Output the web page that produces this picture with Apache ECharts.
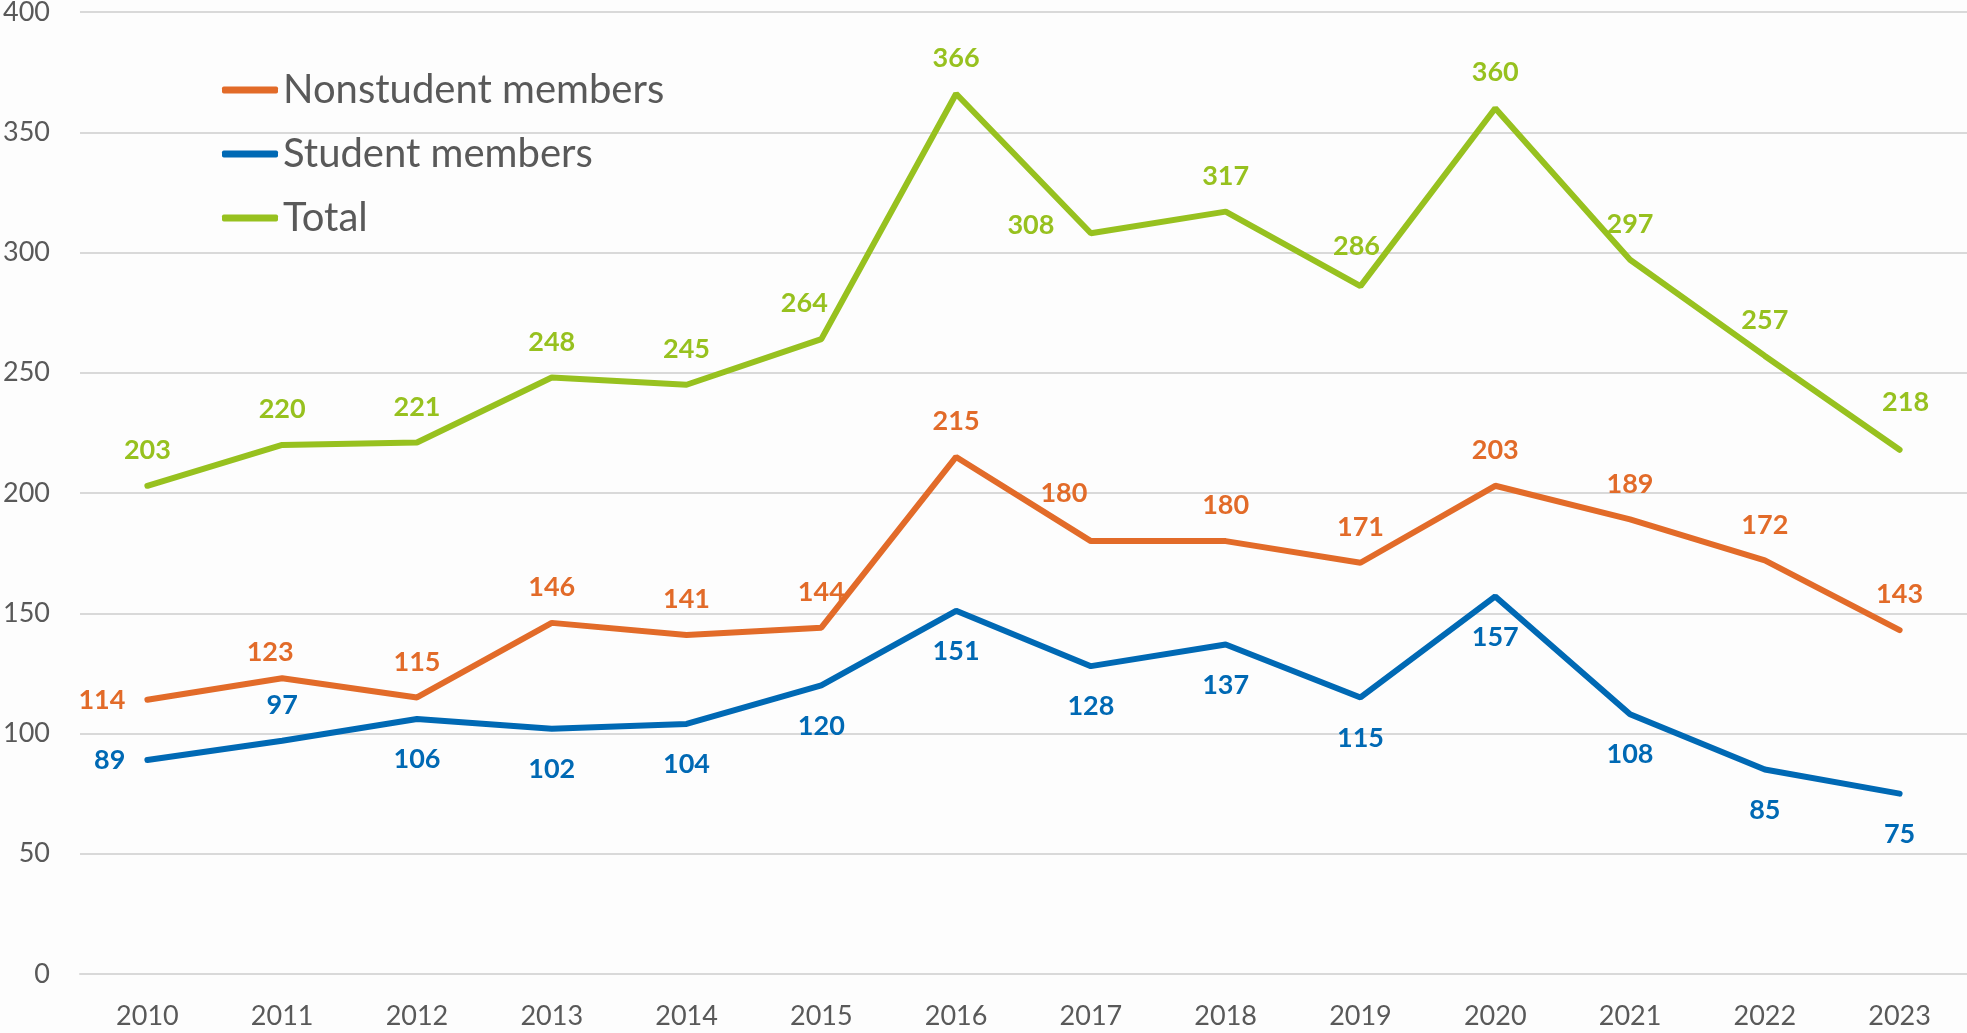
<!DOCTYPE html>
<html>
<head>
<meta charset="utf-8">
<title>Members</title>
<script src="https://cdn.jsdelivr.net/npm/echarts@6/dist/echarts.min.js"></script>
<style>
    html, body { margin: 0; padding: 0; background: #fdfdfd; }
    #chart { width: 1967px; height: 1033px; }
</style>
</head>
<body>
<div id="chart"></div>
<script>
// data
const years = ['2010', '2011', '2012', '2013', '2014', '2015', '2016', '2017', '2018', '2019', '2020', '2021', '2022', '2023'];
const nonstudent = [114, 123, 115, 146, 141, 144, 215, 180, 180, 171, 203, 189, 172, 143];
const student = [89, 97, 106, 102, 104, 120, 151, 128, 137, 115, 157, 108, 85, 75];
const total = [203, 220, 221, 248, 245, 264, 366, 308, 317, 286, 360, 297, 257, 218];
const yTicks = [0, 50, 100, 150, 200, 250, 300, 350, 400];

// where each label sits (default per series, exceptions by index)
const labelPlacement = {
    nonstudent: { base: 'top', gap: 21, moved: { 0: { position: 'left' }, 1: { offset: [-12, 10] }, 7: { offset: [-27, -12] } } },
    student: { base: 'bottom', gap: 26, moved: { 0: { position: 'left', offset: [5, 0] }, 1: { position: 'top', offset: [0, 5] } } },
    total: { base: 'top', gap: 21, moved: { 5: { offset: [-17, 0] }, 7: { offset: [-60, 28] }, 9: { offset: [-4, -4] }, 13: { offset: [6, -12] } } }
};

const colors = {
    nonstudent: '#e26b29',
    student: '#0069b4',
    total: '#97c11f'
};

const font = 'Lato, "Open Sans", sans-serif';

function buildSeries(name, key, values) {
    const place = labelPlacement[key];
    return {
        name: name,
        type: 'line',
        data: values.map((v, i) => {
            const m = place.moved[i];
            return m ? { value: v, label: m } : v;
        }),
        symbol: 'circle',
        symbolSize: 2,
        showSymbol: true,
        itemStyle: { color: colors[key] },
        lineStyle: { width: 6, color: colors[key], cap: 'round' },
        label: {
            show: true,
            position: place.base,
            distance: place.gap,
            color: colors[key],
            fontFamily: font,
            fontWeight: 'bold',
            fontSize: 27,
            lineHeight: 27
        },
        emphasis: { disabled: true }
    };
}

const chart = echarts.init(document.getElementById('chart'));
chart.setOption({
    animation: false,
    backgroundColor: '#fdfdfd',
    grid: { left: 80, right: 0, top: 12, bottom: 59, outerBoundsMode: 'none' },
    legend: {
        orient: 'vertical',
        left: 217,
        top: 65,
        itemWidth: 56,
        itemHeight: 7,
        itemGap: 24,
        icon: 'roundRect',
        data: ['Nonstudent members', 'Student members', 'Total'],
        textStyle: { fontFamily: font, fontSize: 40, color: '#595959', padding: [0, 0, 0, 0] }
    },
    xAxis: {
        type: 'category',
        data: years,
        boundaryGap: true,
        axisLine: { show: true, lineStyle: { color: '#d9d9d9', width: 2 } },
        axisTick: { show: false },
        axisLabel: { color: '#595959', fontFamily: font, fontSize: 27, margin: 29 }
    },
    yAxis: {
        type: 'value',
        min: yTicks[0],
        max: yTicks[yTicks.length - 1],
        interval: yTicks[1] - yTicks[0],
        axisLine: { show: false },
        axisTick: { show: false },
        splitLine: { lineStyle: { color: '#d9d9d9', width: 2 } },
        axisLabel: { color: '#595959', fontFamily: font, fontSize: 27, margin: 30 }
    },
    series: [
        buildSeries('Nonstudent members', 'nonstudent', nonstudent),
        buildSeries('Student members', 'student', student),
        buildSeries('Total', 'total', total)
    ]
});
</script>
</body>
</html>
